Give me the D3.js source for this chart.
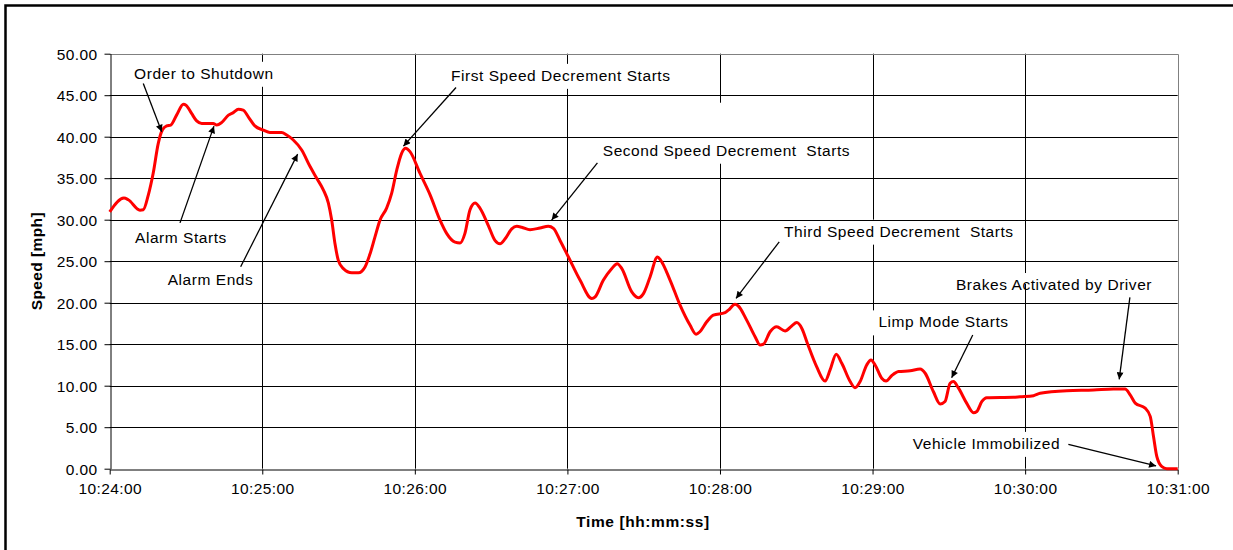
<!DOCTYPE html>
<html>
<head>
<meta charset="utf-8">
<script src="https://cdn.jsdelivr.net/npm/d3@7"></script>
<style>
  html, body { margin: 0; padding: 0; background: #fff; }
  svg { display: block; font-family: "Liberation Sans", Arial, sans-serif; }
</style>
</head>
<body>
<svg id="chart" width="1233" height="550"></svg>
<script>
// Vehicle speed log, seconds after 10:24:00
const seconds = [0, 5.6, 7.3, 11.9, 13.2, 15.2, 17.1, 19.1, 20.7, 22.4, 24.0, 26.3, 29.0, 30.0, 32.2, 34.2, 36.2, 40.7, 42.1, 44.0,
  46.7, 48.6, 50.6, 52.5, 54.5, 57.1, 60.4, 63.0, 67.6, 69.6, 72.2, 75.5, 78.8, 81.4, 84.0, 86.0, 87.3, 88.6, 89.9, 91.9,
  95.2, 97.8, 100.4, 102.4, 104.3, 106.3, 108.9, 110.9, 112.9, 114.8, 116.4, 118.1, 122.0, 126.0, 129.9, 132.5, 135.8, 137.8, 139.7, 141.7,
  143.7, 145.6, 148.9, 151.5, 153.5, 155.5, 158.1, 160.1, 162.0, 165.3, 169.2, 172.5, 174.5, 177.1, 180.4, 185.0, 189.6, 190.9, 194.1, 197.4,
  199.6, 201.4, 205.3, 207.9, 209.9, 212.5, 215.4, 216.7, 220.4, 224.3, 228.2, 230.6, 232.1, 234.8, 237.4, 242.0, 243.3, 245.9, 247.2, 250.5,
  253.8, 255.8, 257.1, 259.7, 262.3, 265.6, 268.2, 270.2, 272.2, 274.5, 278.0, 281.3, 283.3, 285.7, 287.9, 291.2, 293.1, 295.1, 297.7, 299.4,
  301.0, 303.6, 305.3, 307.5, 310.2, 314.8, 318.7, 320.7, 323.9, 326.6, 328.5, 330.5, 331.8, 333.8, 337.0, 339.7, 341.0, 343.0, 344.9, 355.4,
  358.0, 363.3, 365.9, 376.4, 386.9, 394.7, 399.3, 401.3, 403.3, 407.2, 409.2, 410.5, 411.8, 413.8, 415.7, 420];
const speedMph = [30.95, 32.6, 32.4, 31.15, 31.2, 33.0, 35.6, 39.2, 40.8, 41.3, 41.4, 42.6, 43.9, 43.8, 42.8, 41.9, 41.6, 41.6, 41.4, 41.7,
  42.6, 42.9, 43.3, 43.2, 42.4, 41.3, 40.8, 40.5, 40.5, 40.2, 39.6, 38.4, 36.4, 35.0, 33.6, 32.0, 29.95, 27.1, 25.1, 24.1,
  23.6, 23.6, 24.3, 25.9, 27.9, 29.95, 31.4, 33.2, 36.0, 38.0, 38.6, 38.2, 35.6, 33.0, 29.95, 28.35, 27.3, 27.2, 28.35, 31.2,
  32.0, 31.4, 29.3, 27.5, 27.1, 27.7, 28.9, 29.2, 29.1, 28.8, 29.0, 29.2, 28.95, 27.5, 25.5, 22.7, 20.5, 20.7, 22.7, 24.1,
  24.7, 24.1, 21.3, 20.6, 21.1, 23.1, 25.5, 25.1, 22.7, 19.7, 17.3, 16.2, 16.5, 17.7, 18.5, 18.8, 19.1, 19.8, 19.6, 17.9,
  15.9, 14.9, 15.0, 16.5, 17.1, 16.6, 17.2, 17.6, 16.9, 15.0, 12.3, 10.56, 11.9, 13.8, 12.7, 10.5, 9.75, 10.5, 12.5, 13.1,
  12.5, 10.9, 10.56, 11.2, 11.7, 11.8, 12.0, 11.5, 9.3, 7.8, 8.1, 10.3, 10.5, 9.7, 7.9, 6.75, 6.9, 8.1, 8.55, 8.6,
  8.67, 8.8, 9.08, 9.4, 9.48, 9.6, 9.6, 8.9, 7.9, 7.3, 6.3, 3.85, 1.45, 0.24, 0.0, 0.0];

const yTicks = [0, 5, 10, 15, 20, 25, 30, 35, 40, 45, 50];
const xTickLabels = ["10:24:00", "10:25:00", "10:26:00", "10:27:00", "10:28:00", "10:29:00", "10:30:00", "10:31:00"];

// Event callouts: label anchor and arrow (tail -> head) in [seconds, mph]
const eventNames = ["Order to Shutdown", "Alarm Starts", "Alarm Ends", "First Speed Decrement Starts",
  "Second Speed Decrement\u00a0 Starts", "Third Speed Decrement\u00a0 Starts", "Limp Mode Starts",
  "Brakes Activated by Driver", "Vehicle Immobilized"];
const eventLabelAt = [[9.6, 47.65], [9.95, 27.9], [22.8, 22.8], [134.2, 47.4], [193.9, 38.38], [265.2, 28.63], [302.3, 17.7], [332.8, 22.2], [315.8, 3.06]];
const eventArrowFrom = [[13.2, 46.4], [27.65, 29.62], [51.5, 24.33], [136.2, 45.93], [191.8, 36.85], [263.3, 27.34], [339.4, 16.1], [401.2, 20.64], [377.0, 2.94]];
const eventArrowTo = [[20.45, 40.6], [41.0, 41.27], [73.9, 37.9], [115.5, 38.86], [173.8, 29.95], [246.3, 20.52], [331.1, 10.96], [397.0, 10.77], [411.5, 0.33]];

const W = 1233, H = 550;
const margin = { left: 109.7, top: 53.7, right: W - 1177.7, bottom: H - 468.7 };
const base = new Date(2000, 0, 1, 10, 24, 0);
const toDate = s => new Date(base.getTime() + s * 1000);

const x = d3.scaleTime()
  .domain([toDate(0), toDate(420)])
  .range([margin.left, W - margin.right]);
const y = d3.scaleLinear()
  .domain([0, 50])
  .range([H - margin.bottom, margin.top]);

const svg = d3.select("#chart");

// outer frame (right and bottom edges fall outside the canvas)
svg.append("rect")
  .attr("x", 5.5).attr("y", 5.5).attr("width", W + 20).attr("height", H + 20)
  .attr("fill", "#fff").attr("stroke", "#000").attr("stroke-width", 2.5);

const xTickDates = xTickLabels.map((_, i) => toDate(i * 60));
const fmt = d3.timeFormat("%H:%M:%S");

// vertical gridlines
svg.append("g")
  .selectAll("line")
  .data(xTickDates.slice(1, -1))
  .join("line")
  .attr("x1", d => Math.round(x(d)) + 0.5).attr("x2", d => Math.round(x(d)) + 0.5)
  .attr("y1", y(50)).attr("y2", y(0))
  .attr("stroke", "#000").attr("stroke-width", 1);

// label backgrounds mask the vertical grid behind the callouts
const boxLayer = svg.append("g");

// horizontal gridlines
svg.append("g")
  .selectAll("line")
  .data(yTicks.slice(1, -1))
  .join("line")
  .attr("x1", x.range()[0]).attr("x2", x.range()[1])
  .attr("y1", d => Math.round(y(d)) + 0.5).attr("y2", d => Math.round(y(d)) + 0.5)
  .attr("stroke", "#000").attr("stroke-width", 1);

// plot area border (top / right)
svg.append("path")
  .attr("d", `M${x.range()[0]},${Math.round(y(50)) + 0.5}H${Math.round(x.range()[1]) + 0.5}V${y(0)}`)
  .attr("fill", "none").attr("stroke", "#808080").attr("stroke-width", 1);

// axes
const yAxis = d3.axisLeft(y).tickValues(yTicks).tickSize(6).tickSizeOuter(0).tickPadding(7)
  .tickFormat(d3.format(".2f"));
const gy = svg.append("g").attr("transform", `translate(${Math.round(x.range()[0]) + 0.5},0)`).call(yAxis);

const xAxis = d3.axisBottom(x).tickValues(xTickDates).tickSize(5).tickSizeOuter(0).tickPadding(8)
  .tickFormat((d, i) => xTickLabels[i] || fmt(d));
const gx = svg.append("g").attr("transform", `translate(0,${Math.round(y(0)) + 0.5})`).call(xAxis);

[gx, gy].forEach(g => {
  g.select(".domain").attr("stroke", "#000").attr("stroke-width", 1);
  g.selectAll(".tick line").attr("stroke", "#000");
  g.selectAll(".tick text").attr("fill", "#000").attr("font-size", "15.5px")
    .attr("letter-spacing", "0.4px")
    .attr("font-family", "Liberation Sans, Arial, sans-serif");
});
gy.selectAll(".tick text").attr("dy", "0.36em");

// axis titles
svg.append("text")
  .attr("x", 643).attr("y", 527)
  .attr("text-anchor", "middle")
  .attr("font-size", "15.5px").attr("font-weight", "bold").attr("letter-spacing", "0.6px")
  .text("Time [hh:mm:ss]");
svg.append("text")
  .attr("transform", `translate(42,${(y(0) + y(50)) / 2}) rotate(-90)`)
  .attr("text-anchor", "middle")
  .attr("font-size", "15.5px").attr("font-weight", "bold").attr("letter-spacing", "0.4px")
  .text("Speed [mph]");

// speed trace
const pts = seconds.map((s, i) => [toDate(s), speedMph[i]]);
const line = d3.line()
  .x(d => x(d[0]))
  .y(d => y(d[1]))
  .curve(d3.curveMonotoneX);
svg.append("path")
  .datum(pts)
  .attr("d", line)
  .attr("fill", "none")
  .attr("stroke", "#ff0000")
  .attr("stroke-width", 3)
  .attr("stroke-linejoin", "round");

// arrowhead marker
svg.append("defs").append("marker")
  .attr("id", "head")
  .attr("viewBox", "0 0 10 10")
  .attr("refX", 10).attr("refY", 5)
  .attr("markerWidth", 9).attr("markerHeight", 7)
  .attr("markerUnits", "userSpaceOnUse")
  .attr("orient", "auto")
  .append("path").attr("d", "M0,0L10,5L0,10z").attr("fill", "#000");

// callouts
const notes = svg.append("g");
eventNames.forEach((name, i) => {
  const [ls, lv] = eventLabelAt[i];
  const t = notes.append("text")
    .attr("x", x(toDate(ls))).attr("y", y(lv))
    .attr("dy", "0.36em")
    .attr("font-size", "15.5px")
    .attr("letter-spacing", "0.55px")
    .attr("fill", "#000")
    .text(name);
  const bb = t.node().getBBox();
  const extraTop = name.startsWith("Second") ? 36 : 0;
  const shrink = name.startsWith("Brakes") ? 14 : 0;
  boxLayer.append("rect")
    .attr("x", bb.x - 6).attr("y", bb.y - 3 - extraTop)
    .attr("width", bb.width + 14).attr("height", Math.max(0, bb.height + 8 + extraTop - shrink))
    .attr("fill", "#fff");
  const [fs, fv] = eventArrowFrom[i];
  const [ts, tv] = eventArrowTo[i];
  notes.append("line")
    .attr("x1", x(toDate(fs))).attr("y1", y(fv))
    .attr("x2", x(toDate(ts))).attr("y2", y(tv))
    .attr("stroke", "#000").attr("stroke-width", 1.3)
    .attr("marker-end", "url(#head)");
});
</script>
</body>
</html>
